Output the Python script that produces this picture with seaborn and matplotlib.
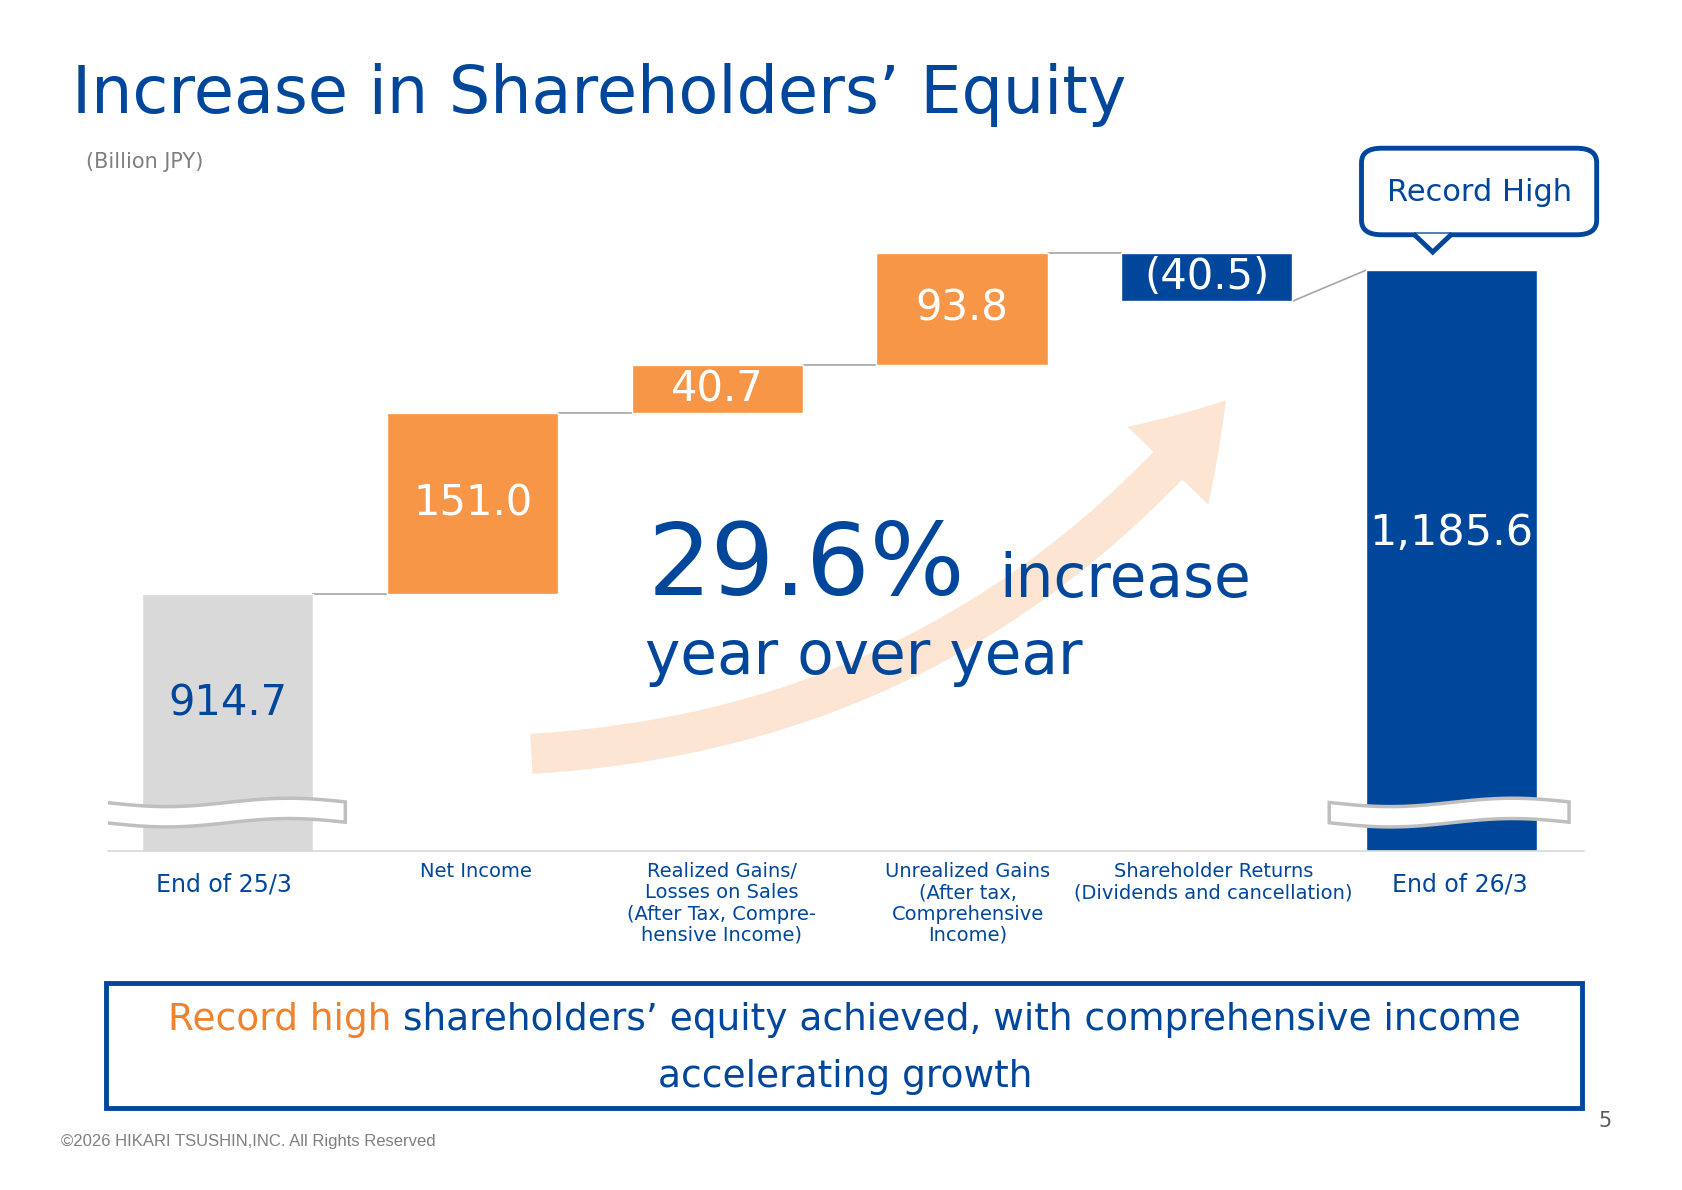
import matplotlib
matplotlib.use("Agg")
import matplotlib.pyplot as plt
import seaborn as sns
import numpy as np
from matplotlib.patches import FancyArrowPatch, FancyBboxPatch, Rectangle, Polygon

sns.set_theme(style="white")
plt.rcParams['font.family'] = ['DejaVu Sans']

categories = ["End of 25/3", "Net Income",
              "Realized Gains/\nLosses on Sales\n(After Tax, Compre-\nhensive Income)",
              "Unrealized Gains\n(After tax,\nComprehensive\nIncome)",
              "Shareholder Returns\n(Dividends and cancellation)", "End of 26/3"]
start_value = 914.7
changes = [151.0, 40.7, 93.8, -40.5]
end_value = 1185.6
labels = ["914.7", "151.0", "40.7", "93.8", "(40.5)", "1,185.6"]

BLUE = "#00479b"; ORANGE = "#f79646"; GRAY = "#d9d9d9"
W, H = 1560, 1100
fx = lambda x: x / W
fy = lambda y: 1 - y / H

fig = plt.figure(figsize=(16.83, 11.90), dpi=100)
ax = fig.add_axes([fx(100), fy(787), fx(1468) - fx(100), fy(200) - fy(787)])
base = 699
ax.set_ylim(base, 1230.7)
ax.set_xlim(-0.49, 5.54)

bottoms, heights, colors = [base], [start_value - base], [GRAY]
level = start_value
for c in changes:
    if c >= 0:
        bottoms.append(level); heights.append(c); colors.append(ORANGE)
    else:
        bottoms.append(level + c); heights.append(-c); colors.append(BLUE)
    level += c
bottoms.append(base); heights.append(end_value - base); colors.append(BLUE)
xs = np.arange(len(categories))
ax.bar(xs, heights, bottom=bottoms, width=0.7, color=colors, zorder=2)

prev_top = start_value
for i in range(1, 5):
    ax.plot([i - 1 + 0.35, i - 0.35], [prev_top, prev_top], color="#a6a6a6", lw=1.2, zorder=1)
    prev_top = prev_top + changes[i - 1]
ax.plot([4.35, 4.65], [prev_top, end_value], color="#a6a6a6", lw=1.2, zorder=1)

txt_col = [BLUE, "white", "white", "white", "white", "white"]
for i in range(6):
    yc = bottoms[i] + heights[i] / 2
    if i == 0: yc = 823
    if i == 5: yc = 966
    ax.text(i, yc, labels[i], ha="center", va="center", color=txt_col[i],
            fontsize=30 if i != 5 else 31, zorder=4)

for xc in [0, 5]:
    t = np.linspace(-0.5, 0.48, 100)
    xx = xc + t
    off = np.sin(t * 2 * np.pi) * 3.5
    top = 738 + off + 2; bot = 725 + off - 2
    poly = np.concatenate([np.column_stack([xx, top]), np.column_stack([xx[::-1], bot[::-1]])])
    ax.add_patch(Polygon(poly, closed=True, facecolor="white", edgecolor="#bfbfbf", lw=2.5, zorder=3))

sns.despine(ax=ax, left=True)
ax.spines['bottom'].set_color("#d9d9d9")
ax.set_yticks([]); ax.set_xticks([])
ax.grid(False)

for i, cat in enumerate(categories):
    big = i in (0, 5)
    fig.text(fx(213 + i * 228 - (5 if i == 0 else 0)), fy(818 if big else 797), cat, ha="center",
             va="center" if big else "top", color=BLUE, fontsize=17 if big else 14, linespacing=1.15)

arr = FancyArrowPatch((fx(490), fy(697)), (fx(1138), fy(368)), transform=fig.transFigure,
                      connectionstyle="arc3,rad=0.22",
                      arrowstyle="simple,head_width=4.5,head_length=3.5,tail_width=1.6",
                      mutation_scale=18, color="#fde5d3", zorder=0, lw=0)
fig.patches.append(arr)

fig.text(fx(600), fy(525), "29.6%", color=BLUE, fontsize=72, va="center", ha="left")
fig.text(fx(926), fy(537), "increase", color=BLUE, fontsize=43, va="center", ha="left")
fig.text(fx(598), fy(608), "year over year", color=BLUE, fontsize=43, va="center", ha="left")

fig.text(fx(67), fy(88), "Increase in Shareholders’ Equity", color=BLUE, fontsize=47, va="center")
fig.text(fx(80), fy(150), "(Billion JPY)", color="#7f7f7f", fontsize=15, va="center")

fig.patches.append(FancyBboxPatch((fx(1262), fy(217)), fx(1480) - fx(1262), fy(137) - fy(217),
                                  boxstyle="round,pad=0,rounding_size=0.012", transform=fig.transFigure,
                                  facecolor="white", edgecolor=BLUE, lw=3.5))
fig.patches.append(Polygon([(fx(1310), fy(216)), (fx(1328), fy(233)), (fx(1346), fy(216))], closed=False,
                           transform=fig.transFigure, facecolor="white", edgecolor=BLUE, lw=3.5))
fig.text(fx(1371), fy(178), "Record High", color=BLUE, fontsize=22, ha="center", va="center")

fig.patches.append(Rectangle((fx(98), fy(1024)), fx(1466) - fx(98), fy(909) - fy(1024),
                             transform=fig.transFigure, facecolor="none", edgecolor=BLUE, lw=3.5))
fig.canvas.draw()
r = fig.canvas.get_renderer()
p1 = fig.text(0, fy(943), "Record high ", color="#f0822d", fontsize=27, va="center")
p2 = fig.text(0, fy(943), "shareholders’ equity achieved, with comprehensive income", color=BLUE, fontsize=27, va="center")
w1 = p1.get_window_extent(r).width; w2 = p2.get_window_extent(r).width
figw = fig.bbox.width
x0 = fx(783) - (w1 + w2) / 2 / figw
p1.set_x(x0); p2.set_x(x0 + w1 / figw)
fig.text(fx(783), fy(996), "accelerating growth", color=BLUE, fontsize=27, ha="center", va="center")

fig.text(fx(57), fy(1055), "©2026 HIKARI TSUSHIN,INC. All Rights Reserved", color="#7f7f7f",
         fontsize=12, family="Liberation Sans", va="center")
fig.text(fx(1488), fy(1036), "5", color="#595959", fontsize=15, ha="center", va="center")

fig.savefig("out.png", dpi=100, facecolor="white")
